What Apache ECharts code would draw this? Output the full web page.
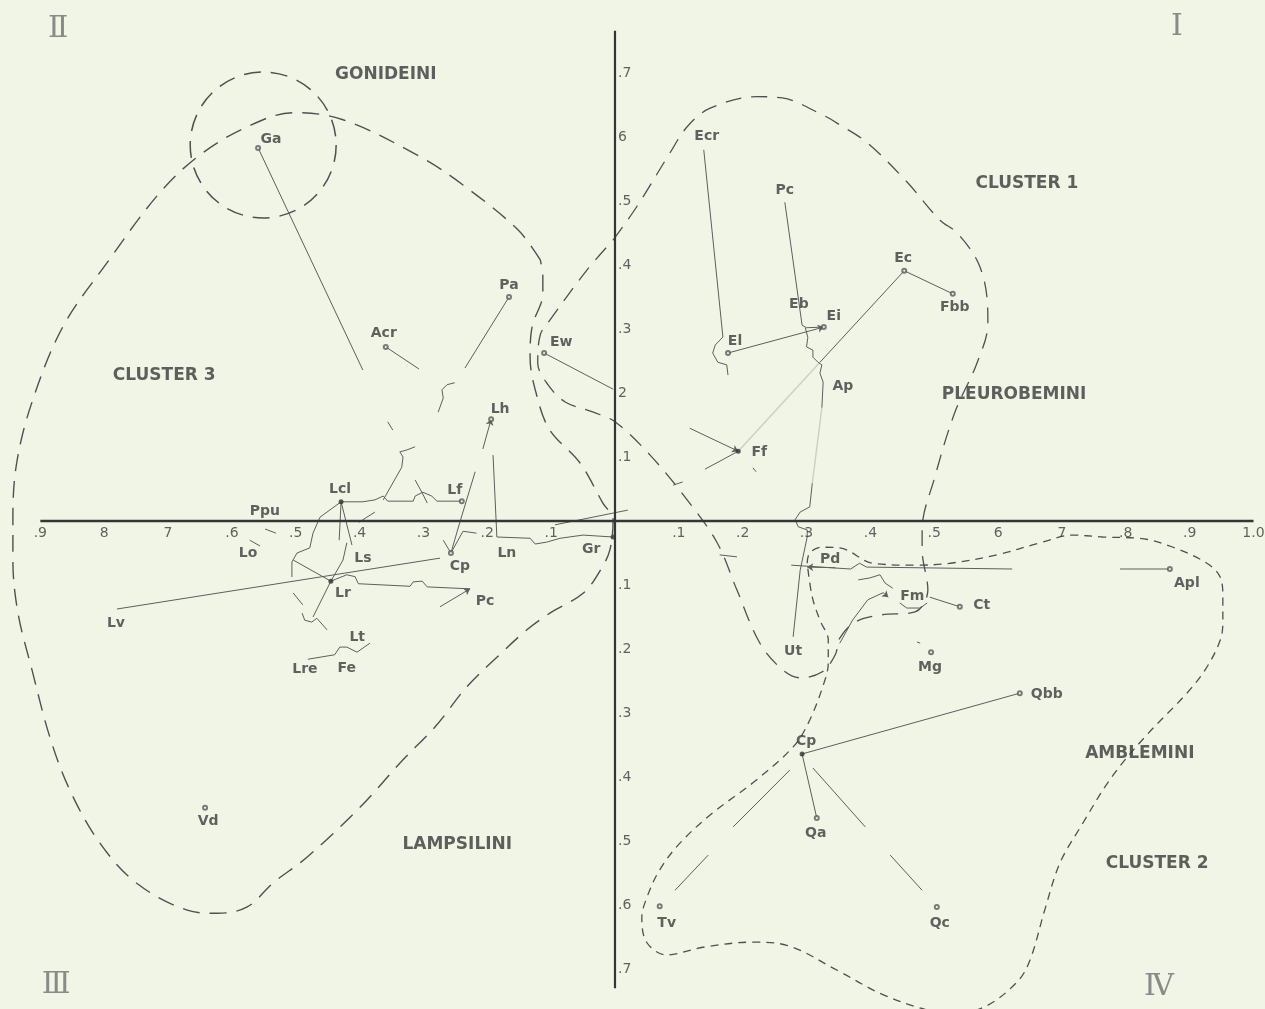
<!DOCTYPE html>
<html>
<head>
<meta charset="utf-8">
<script src="https://cdn.jsdelivr.net/npm/echarts@6/dist/echarts.min.js"></script>
<style>
html,body{margin:0;padding:0;background:#f0f5e6;}
#chart{width:1265px;height:1009px;}
</style>
</head>
<body>
<div id="chart"></div>
<script>
// ---------- DATA ----------
const xAxisExtent = [-0.9, 1.0];
const yAxisExtent = [-0.73, 0.766];
const xTickValues = [-0.9,-0.8,-0.7,-0.6,-0.5,-0.4,-0.3,-0.2,-0.1,0.1,0.2,0.3,0.4,0.5,0.6,0.7,0.8,0.9,1.0];
const xTickLabels = ['.9','8','7','.6','.5','.4','.3','.2','.1','.1','.2','.3','.4','.5','6','7','.8','.9','1.0'];
const yTickValues = [0.7,0.6,0.5,0.4,0.3,0.2,0.1,-0.1,-0.2,-0.3,-0.4,-0.5,-0.6,-0.7];
const yTickLabels = ['.7','6','.5','.4','.3','2','.1','.1','.2','.3','.4','.5','.6','.7'];

const pointIds    = ['Ga','Acr','Pa','Lh','Lf','Lcl','Ppu','Lo','Ls','Lr','CpL','Ln','Gr','PcL','Lt','Lre','Fe','Lv','Vd',
                     'Ecr','PcR','Ec','Fbb','Eb','Ei','El','Ap','Ff','Ew','Pd','Apl','Fm','Ct','Mg','Ut','Qbb','CpR','Qa','Qc','Tv'];
const pointLabels = ['Ga','Acr','Pa','Lh','Lf','Lcl','Ppu','Lo','Ls','Lr','Cp','Ln','Gr','Pc','Lt','Lre','Fe','Lv','Vd',
                     'Ecr','Pc','Ec','Fbb','Eb','Ei','El','Ap','Ff','Ew','Pd','Apl','Fm','Ct','Mg','Ut','Qbb','Cp','Qa','Qc','Tv'];
const pointX = [-0.559,-0.359,-0.166,-0.194,-0.240,-0.429,-0.531,-0.556,-0.412,-0.445,-0.257,-0.185,-0.003,-0.227,-0.399,-0.481,-0.420,-0.780,-0.642,
                0.139,0.266,0.453,0.529,0.288,0.327,0.177,0.321,0.193,-0.111,0.301,0.869,0.428,0.540,0.495,0.279,0.634,0.293,0.316,0.504,0.070];
const pointY = [0.583,0.272,0.350,0.159,0.031,0.030,-0.019,-0.039,-0.0375,-0.094,-0.050,-0.025,-0.025,-0.106,-0.198,-0.216,-0.231,-0.1375,-0.448,
                0.580,0.498,0.391,0.355,0.339,0.303,0.2625,0.248,0.109,0.2625,-0.072,-0.075,-0.119,-0.134,-0.205,-0.181,-0.269,-0.364,-0.464,-0.603,-0.602];

const regionNames = ['GONIDEINI','CLUSTER 1','CLUSTER 3','PLEUROBEMINI','LAMPSILINI','AMBLEMINI','CLUSTER 2'];
const regionX = [-0.359,0.645,-0.706,0.625,-0.247,0.822,0.849];
const regionY = [0.698,0.528,0.227,0.197,-0.506,-0.364,-0.536];

const quadrantNames = ['Ⅱ','Ⅰ','Ⅲ','Ⅳ'];
const quadrantX = [-0.872,0.880,-0.875,0.852];
const quadrantY = [0.769,0.772,-0.725,-0.728];

// connecting lines (data coordinates)
const linkSegments = [
  [[-0.559,0.583],[-0.395,0.236]],
  [[-0.356,0.155],[-0.348,0.142]],
  [[-0.359,0.272],[-0.307,0.2375]],
  [[-0.166,0.350],[-0.235,0.239]],
  [[-0.219,0.077],[-0.243,-0.002],[-0.257,-0.050]],
  [[-0.191,0.103],[-0.185,-0.025]],
  [[-0.185,-0.025],[-0.133,-0.027],[-0.125,-0.036],[-0.107,-0.033],[-0.086,-0.027],[-0.050,-0.022],[-0.003,-0.025]],
  [[-0.094,-0.006],[0.020,0.017]],
  [[-0.240,0.031],[-0.279,0.031],[-0.287,0.039],[-0.301,0.045],[-0.313,0.039],[-0.316,0.031],[-0.356,0.031],[-0.363,0.039],[-0.376,0.033],[-0.395,0.030],[-0.429,0.030]],
  [[-0.363,0.033],[-0.334,0.084],[-0.332,0.100],[-0.337,0.108],[-0.326,0.111],[-0.313,0.116]],
  [[-0.277,0.170],[-0.269,0.192],[-0.271,0.205],[-0.263,0.213],[-0.251,0.216]],
  [[-0.313,0.064],[-0.302,0.044],[-0.294,0.028]],
  [[-0.401,-0.002],[-0.376,0.014]],
  [[-0.429,0.030],[-0.432,-0.030]],
  [[-0.429,0.030],[-0.412,-0.0375]],
  [[-0.429,0.030],[-0.462,0.006],[-0.473,-0.019],[-0.478,-0.042],[-0.498,-0.050],[-0.506,-0.064],[-0.506,-0.0875]],
  [[-0.504,-0.061],[-0.445,-0.094]],
  [[-0.445,-0.094],[-0.426,-0.061],[-0.420,-0.034]],
  [[-0.445,-0.094],[-0.473,-0.150]],
  [[-0.490,-0.144],[-0.486,-0.155],[-0.475,-0.158],[-0.467,-0.152],[-0.451,-0.170]],
  [[-0.504,-0.1125],[-0.489,-0.131]],
  [[-0.481,-0.216],[-0.439,-0.209],[-0.431,-0.197],[-0.420,-0.197],[-0.404,-0.205],[-0.384,-0.191]],
  [[-0.445,-0.094],[-0.420,-0.084],[-0.407,-0.087],[-0.402,-0.098],[-0.321,-0.102],[-0.316,-0.095],[-0.302,-0.094],[-0.294,-0.103],[-0.227,-0.106]],
  [[-0.780,-0.1375],[-0.274,-0.058]],
  [[-0.572,-0.030],[-0.556,-0.039]],
  [[-0.548,-0.0125],[-0.531,-0.019]],
  [[-0.269,-0.030],[-0.257,-0.050],[-0.238,-0.016],[-0.217,-0.019]],
  [[0.139,0.580],[0.169,0.2875],[0.157,0.275],[0.153,0.2625],[0.161,0.248],[0.175,0.244],[0.177,0.228]],
  [[0.266,0.498],[0.293,0.306],[0.300,0.302],[0.327,0.303]],
  [[0.453,0.391],[0.529,0.355]],
  [[0.453,0.391],[0.321,0.248]],
  [[0.298,0.302],[0.302,0.287],[0.300,0.272],[0.310,0.267],[0.310,0.256],[0.318,0.248],[0.324,0.244],[0.321,0.231],[0.326,0.217],[0.324,0.177]],
  [[-0.111,0.2625],[-0.003,0.206]],
  [[0.141,0.081],[0.193,0.109]],
  [[0.216,0.083],[0.221,0.077]],
  [[0.309,0.059],[0.305,0.022],[0.290,0.014],[0.282,0.002],[0.287,-0.009],[0.301,-0.014],[0.301,-0.025],[0.290,-0.077],[0.279,-0.181]],
  [[0.276,-0.069],[0.369,-0.075],[0.383,-0.066],[0.394,-0.072],[0.622,-0.075]],
  [[0.791,-0.075],[0.869,-0.075]],
  [[0.352,-0.191],[0.372,-0.155],[0.396,-0.123],[0.420,-0.112]],
  [[0.381,-0.092],[0.399,-0.089],[0.415,-0.084],[0.423,-0.097],[0.435,-0.105]],
  [[0.446,-0.128],[0.457,-0.136],[0.478,-0.136],[0.489,-0.128]],
  [[0.493,-0.119],[0.540,-0.134]],
  [[0.473,-0.189],[0.478,-0.191]],
  [[0.293,-0.364],[0.634,-0.269]],
  [[0.293,-0.364],[0.316,-0.464]],
  [[0.310,-0.386],[0.392,-0.478]],
  [[0.431,-0.522],[0.481,-0.577]],
  [[0.274,-0.389],[0.185,-0.478]],
  [[0.146,-0.522],[0.094,-0.577]],
  [[0.091,0.056],[0.106,0.061]],
  [[0.164,-0.053],[0.191,-0.056]]
];
const arrowSegments = [
  [[-0.207,0.1125],[-0.194,0.159]],
  [[0.177,0.2625],[0.327,0.303]],
  [[0.117,0.145],[0.193,0.109]],
  [[0.345,-0.073],[0.301,-0.072]],
  [[0.420,-0.112],[0.428,-0.119]],
  [[-0.274,-0.134],[-0.227,-0.106]]
];
const faintSegments = [
  [[0.193,0.109],[0.321,0.248]],
  [[0.324,0.177],[0.309,0.059]]
];

// cluster boundaries
const cluster3Boundary = [[-0.117,0.408],[-0.152,0.455],[-0.238,0.525],[-0.305,0.569],[-0.426,0.627],[-0.504,0.638],[-0.576,0.616],
  [-0.650,0.572],[-0.713,0.513],[-0.796,0.403],[-0.865,0.303],[-0.913,0.186],[-0.937,0.091],[-0.943,0.006],[-0.943,-0.061],
  [-0.935,-0.144],[-0.913,-0.233],[-0.885,-0.338],[-0.854,-0.420],[-0.807,-0.503],[-0.749,-0.566],[-0.670,-0.608],[-0.623,-0.613],
  [-0.576,-0.603],[-0.536,-0.566],[-0.482,-0.525],[-0.399,-0.447],[-0.332,-0.373],[-0.282,-0.322],[-0.232,-0.259],[-0.185,-0.213],
  [-0.138,-0.170],[-0.102,-0.144],[-0.050,-0.113],[-0.023,-0.077],[-0.008,-0.045],[-0.003,0.002],[-0.019,0.028],[-0.055,0.091],
  [-0.102,0.142],[-0.122,0.194],[-0.133,0.256],[-0.130,0.303],[-0.113,0.356],[-0.113,0.381],[-0.117,0.408]];
const cluster1Boundary = [[-0.003,0.439],[0.034,0.491],[0.086,0.575],[0.113,0.616],[0.149,0.645],[0.222,0.663],[0.262,0.661],
  [0.326,0.634],[0.352,0.619],[0.395,0.591],[0.457,0.530],[0.509,0.470],[0.536,0.450],[0.569,0.403],[0.583,0.345],[0.584,0.309],
  [0.567,0.247],[0.532,0.169],[0.501,0.069],[0.481,-0.014],[0.481,-0.045],[0.490,-0.108],[0.470,-0.142],[0.415,-0.147],
  [0.376,-0.158],[0.352,-0.183],[0.345,-0.209],[0.324,-0.236],[0.290,-0.245],[0.263,-0.233],[0.227,-0.191],[0.191,-0.108],
  [0.160,-0.034],[0.113,0.033],[0.055,0.103],[0.000,0.155],[-0.034,0.170],[-0.078,0.186],[-0.105,0.213],[-0.121,0.247],
  [-0.117,0.291],[-0.102,0.314],[-0.044,0.392],[-0.003,0.439]];
const cluster2Boundary = [[0.301,-0.066],[0.305,-0.050],[0.324,-0.041],[0.352,-0.042],[0.404,-0.066],[0.473,-0.069],[0.525,-0.066],
  [0.598,-0.053],[0.666,-0.034],[0.717,-0.022],[0.764,-0.025],[0.822,-0.027],[0.874,-0.041],[0.927,-0.066],[0.948,-0.088],
  [0.952,-0.119],[0.952,-0.155],[0.948,-0.186],[0.924,-0.233],[0.893,-0.272],[0.833,-0.334],[0.778,-0.400],[0.731,-0.475],
  [0.697,-0.534],[0.673,-0.608],[0.650,-0.686],[0.630,-0.720],[0.579,-0.759],[0.525,-0.770],[0.478,-0.761],[0.415,-0.738],
  [0.348,-0.702],[0.269,-0.663],[0.216,-0.658],[0.138,-0.666],[0.081,-0.678],[0.050,-0.659],[0.042,-0.620],[0.050,-0.588],
  [0.070,-0.545],[0.102,-0.503],[0.153,-0.456],[0.216,-0.409],[0.279,-0.353],[0.305,-0.311],[0.329,-0.248],[0.334,-0.222],
  [0.334,-0.186],[0.321,-0.155],[0.309,-0.119],[0.301,-0.066]];
const gonideiniCircle = [[-0.551, 0.5875, 0.1143]];

// ---------- STYLE (not data) ----------
const labelOffset = {Ga:[13,-9],Acr:[-2,-14],Pa:[0,-12],Lh:[9,-10],Lf:[-7,-11],Lcl:[-1,-12],Ppu:[-11,-22],Lo:[-12,7],Ls:[11,13],
  Lr:[12,12],CpL:[9,13],Ln:[10,16],Gr:[-22,12],PcL:[15,13],Lt:[-3,-10],Lre:[-3,10],Fe:[0,0],Lv:[-1,14],Vd:[3,14],
  Ecr:[3,-13],PcR:[0,-12],Ec:[-1,-12],Fbb:[2,14],Eb:[0,0],Ei:[10,-11],El:[7,-12],Ap:[23,24],Ff:[21,1],Ew:[17,-11],
  Pd:[23,-8],Apl:[17,14],Fm:[24,-1],Ct:[22,-1],Mg:[-1,15],Ut:[0,15],Qbb:[27,1],CpR:[4,-13],Qa:[-1,15],Qc:[3,16],Tv:[7,17]};
const dotPoints = ['Lr','Gr','Ff','Lcl','CpR'];
const openPoints = ['Ga','Acr','Pa','Lh','Lf','CpL','Ew','El','Ct','Mg','Qbb','Qa','Qc','Apl','Tv','Vd','Fbb','Ec','Ei'];

const ink = '#3c3c3c';
const lineInk = '#5e5e5e';
const chart = echarts.init(document.getElementById('chart'), null, {renderer:'canvas'});

function boundary(data, dash, width, color){
  return {type:'line', data:data, smooth:0.35, symbol:'none', clip:false, silent:true,
    lineStyle:{color:color, width:width, type:dash, opacity:1}, z:3};
}
function lineLayer(segs, style, extra){
  return Object.assign({type:'lines', coordinateSystem:'cartesian2d', polyline:true, silent:true, z:4,
    data:segs.map(c=>({coords:c})), lineStyle:Object.assign({opacity:1, curveness:0}, style)}, extra || {});
}
function textLayer(names, xs, ys, label){
  return {type:'scatter', silent:true, z:6, symbolSize:0.1, itemStyle:{color:'rgba(0,0,0,0)'}, clip:false,
    data:names.map((n,i)=>({name:n, value:[xs[i], ys[i]]})), label:Object.assign({show:true, formatter:'{b}'}, label)};
}

// Plot area spans the whole canvas; origin at (615, 521) px, 638.5 px per unit in x, 640 px per unit in y
const option = {
  backgroundColor:'#f0f5e6',
  animation:false,
  textStyle:{fontFamily:'DejaVu Sans'},
  grid:{left:0, right:0, top:0, bottom:0, containLabel:false},
  xAxis:{type:'value', min:-615/638.5, max:650/638.5, show:false},
  yAxis:{type:'value', min:-488/640, max:521/640, show:false},
  series:[
    lineLayer([[[xAxisExtent[0],0],[xAxisExtent[1],0]]], {color:'#353535', width:2.6}, {z:5}),
    lineLayer([[[0,yAxisExtent[0]],[0,yAxisExtent[1]]]], {color:'#353535', width:2.2}, {z:5}),
    boundary(cluster3Boundary, [17,10], 1.4, '#505050'),
    boundary(cluster1Boundary, [16,10], 1.3, '#505050'),
    boundary(cluster2Boundary, [8,6], 1.3, '#505050'),
    {type:'custom', data:gonideiniCircle, silent:true, z:3,
      renderItem:function(params, api){
        const c = api.coord([api.value(0), api.value(1)]);
        const r = api.size([api.value(2), 0])[0];
        return {type:'circle', shape:{cx:c[0], cy:c[1], r:r},
          style:{fill:null, stroke:'#505050', lineWidth:1.5, lineDash:[17,10]}};
      }},
    lineLayer(faintSegments, {color:'#cdd1c2', width:1.5}),
    lineLayer(linkSegments, {color:lineInk, width:1}),
    lineLayer(arrowSegments, {color:lineInk, width:1}, {polyline:false, symbol:['none','arrow'], symbolSize:6}),
    {type:'scatter', silent:true, z:6,
      data:pointIds.map((id,i)=>{
        const isDot = dotPoints.indexOf(id) >= 0, isOpen = openPoints.indexOf(id) >= 0;
        return {name:pointLabels[i], value:[pointX[i], pointY[i]],
          symbol: isDot ? 'circle' : 'emptyCircle',
          symbolSize: isDot ? 5 : (isOpen ? 4 : 0.1),
          itemStyle:{color: isDot ? '#333' : (isOpen ? '#5a5a5a' : 'rgba(0,0,0,0)'), borderWidth: isOpen ? 1 : 0},
          label:{offset: labelOffset[id]}};
      }),
      label:{show:true, position:'inside', formatter:'{b}', fontSize:14, fontWeight:'bold', color:ink}},
    textLayer(regionNames, regionX, regionY, {position:'inside', fontSize:17, fontWeight:'bold', color:'#3a3a3a'}),
    textLayer(quadrantNames, quadrantX, quadrantY, {position:'inside', fontSize:30, fontFamily:'DejaVu Serif', color:'#707070'}),
    textLayer(xTickLabels, xTickValues, xTickValues.map(()=>0), {position:'bottom', distance:5, fontSize:14, color:'#3c3c3c'}),
    textLayer(yTickLabels, yTickValues.map(()=>0), yTickValues, {position:'right', distance:3, fontSize:14, color:'#3c3c3c'})
  ]
};
chart.setOption(option);
</script>
</body>
</html>
